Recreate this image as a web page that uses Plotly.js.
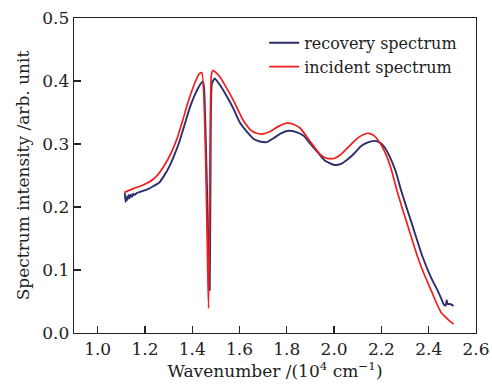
<!DOCTYPE html>
<html>
<head>
<meta charset="utf-8">
<script src="https://cdn.plot.ly/plotly-3.0.1.min.js"></script>
<style>html,body{margin:0;padding:0;background:#fff;}#chart{width:492px;height:385px;}</style>
</head>
<body>
<div id="chart"></div>
<script>
// Wavenumber in 10^4 cm^-1
const recoveryX = [1.115,1.118,1.122,1.126,1.130,1.135,1.140,1.145,1.150,1.155,1.165,1.18,1.21,1.235,1.261,1.28,1.303,1.325,1.346,1.368,1.389,1.41,1.424,1.436,1.445,1.450,1.474,1.478,1.483,1.495,1.52,1.55,1.573,1.60,1.63,1.66,1.686,1.715,1.743,1.775,1.807,1.84,1.871,1.90,1.93,1.96,1.998,2.027,2.055,2.085,2.112,2.14,2.169,2.19,2.211,2.235,2.261,2.282,2.303,2.33,2.374,2.41,2.437,2.455,2.466,2.472,2.476,2.48,2.49,2.505];
const recoveryY = [0.222,0.208,0.216,0.211,0.219,0.214,0.220,0.216,0.221,0.219,0.222,0.224,0.228,0.233,0.239,0.249,0.264,0.283,0.304,0.331,0.357,0.377,0.388,0.396,0.399,0.390,0.068,0.300,0.395,0.404,0.392,0.373,0.357,0.335,0.320,0.308,0.304,0.303,0.309,0.317,0.321,0.319,0.313,0.300,0.287,0.274,0.267,0.268,0.275,0.285,0.296,0.302,0.305,0.303,0.296,0.280,0.256,0.228,0.203,0.172,0.121,0.088,0.068,0.053,0.044,0.044,0.052,0.046,0.046,0.043];
const incidentX = [1.112,1.13,1.155,1.18,1.21,1.235,1.254,1.275,1.296,1.318,1.339,1.36,1.381,1.40,1.41,1.431,1.441,1.469,1.476,1.481,1.488,1.516,1.545,1.573,1.595,1.615,1.645,1.672,1.70,1.729,1.765,1.80,1.83,1.857,1.899,1.942,1.97,2.0,2.027,2.06,2.098,2.125,2.147,2.17,2.19,2.215,2.24,2.265,2.289,2.32,2.353,2.38,2.41,2.43,2.452,2.48,2.505];
const incidentY = [0.223,0.226,0.230,0.233,0.238,0.244,0.251,0.262,0.275,0.292,0.312,0.338,0.365,0.386,0.396,0.412,0.413,0.039,0.320,0.410,0.417,0.407,0.389,0.370,0.353,0.338,0.323,0.317,0.316,0.320,0.328,0.333,0.331,0.325,0.304,0.283,0.277,0.277,0.283,0.295,0.309,0.315,0.317,0.313,0.304,0.287,0.262,0.227,0.197,0.160,0.121,0.094,0.068,0.050,0.033,0.022,0.014];
const xTicks = [1.0,1.2,1.4,1.6,1.8,2.0,2.2,2.4,2.6];
const xTickText = ["1.0","1.2","1.4","1.6","1.8","2.0","2.2","2.4","2.6"];
const yTicks = [0.0,0.1,0.2,0.3,0.4,0.5];
const yTickText = ["0.0","0.1","0.2","0.3","0.4","0.5"];

const FONT = "DejaVu Serif, Liberation Serif, serif";
const traces = [
  {x: recoveryX, y: recoveryY, type: 'scatter', mode: 'lines', name: 'recovery spectrum',
   line: {color: '#2c2e6e', width: 1.9, shape: 'spline', smoothing: 0.5}},
  {x: incidentX, y: incidentY, type: 'scatter', mode: 'lines', name: 'incident spectrum',
   line: {color: '#f01e1e', width: 1.7, shape: 'spline', smoothing: 0.5}}
];
const axisCommon = {
  showline: true, linecolor: '#222', linewidth: 1.3, mirror: true,
  ticks: 'inside', ticklen: 7, tickwidth: 1.3, tickcolor: '#222',
  showgrid: false, zeroline: false,
  tickfont: {family: FONT, size: 17, color: '#222'}
};
const layout = {
  width: 492, height: 385,
  margin: {l: 74, r: 16, t: 18, b: 52},
  paper_bgcolor: '#fff', plot_bgcolor: '#fff',
  showlegend: true,
  legend: {x: 0.473, y: 0.975, xanchor: 'left', yanchor: 'top', bgcolor: 'rgba(0,0,0,0)',
           font: {family: FONT, size: 16, color: '#222'}, tracegroupgap: 0},
  xaxis: Object.assign({}, axisCommon, {
    range: [0.9, 2.6], tickvals: xTicks, ticktext: xTickText,
    title: {text: 'Wavenumber /(10<sup>4</sup> cm<sup>−1</sup>)', font: {family: FONT, size: 17, color: '#222'}, standoff: 6}
  }),
  yaxis: Object.assign({}, axisCommon, {
    range: [0, 0.5], tickvals: yTicks, ticktext: yTickText,
    title: {text: 'Spectrum intensity /arb. unit', font: {family: FONT, size: 17, color: '#222'}, standoff: 8}
  })
};
Plotly.newPlot('chart', traces, layout, {displayModeBar: false, staticPlot: true});
</script>
</body>
</html>
